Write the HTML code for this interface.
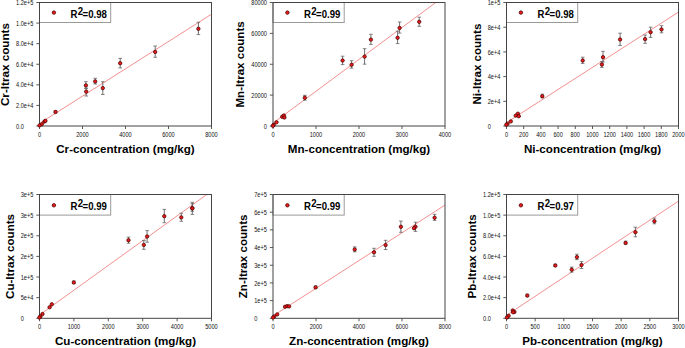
<!DOCTYPE html><html><head><meta charset="utf-8"><style>html,body{margin:0;padding:0;background:#fff;width:685px;height:348px;overflow:hidden}svg{display:block}text{font-family:"Liberation Sans",sans-serif}</style></head><body>
<svg width="685" height="348" viewBox="0 0 685 348">
<rect x="39.5" y="2.5" width="71.2" height="20.0" fill="#fff" stroke="#9a9a9a" stroke-width="1"/>
<line x1="40.50" y1="122.78" x2="211.50" y2="14.20" stroke="#f07474" stroke-width="0.8"/>
<rect x="39.5" y="2.5" width="172.0" height="123.50" fill="none" stroke="#454545" stroke-width="1"/>
<line x1="36.3" y1="126.00" x2="39.5" y2="126.00" stroke="#454545" stroke-width="0.9"/>
<text x="16.09" y="128.60" font-size="6.6" textLength="7.80" lengthAdjust="spacingAndGlyphs" fill="#111">0.0</text>
<line x1="36.3" y1="105.42" x2="39.5" y2="105.42" stroke="#454545" stroke-width="0.9"/>
<text x="16.09" y="108.02" font-size="6.6" textLength="17.31" lengthAdjust="spacingAndGlyphs" fill="#111">2.0e+4</text>
<line x1="36.3" y1="84.83" x2="39.5" y2="84.83" stroke="#454545" stroke-width="0.9"/>
<text x="16.09" y="87.43" font-size="6.6" textLength="17.31" lengthAdjust="spacingAndGlyphs" fill="#111">4.0e+4</text>
<line x1="36.3" y1="64.25" x2="39.5" y2="64.25" stroke="#454545" stroke-width="0.9"/>
<text x="16.09" y="66.85" font-size="6.6" textLength="17.31" lengthAdjust="spacingAndGlyphs" fill="#111">6.0e+4</text>
<line x1="36.3" y1="43.67" x2="39.5" y2="43.67" stroke="#454545" stroke-width="0.9"/>
<text x="16.09" y="46.27" font-size="6.6" textLength="17.31" lengthAdjust="spacingAndGlyphs" fill="#111">8.0e+4</text>
<line x1="36.3" y1="23.08" x2="39.5" y2="23.08" stroke="#454545" stroke-width="0.9"/>
<text x="16.09" y="25.68" font-size="6.6" textLength="17.31" lengthAdjust="spacingAndGlyphs" fill="#111">1.0e+5</text>
<line x1="36.3" y1="2.50" x2="39.5" y2="2.50" stroke="#454545" stroke-width="0.9"/>
<text x="16.09" y="5.10" font-size="6.6" textLength="17.31" lengthAdjust="spacingAndGlyphs" fill="#111">1.2e+5</text>
<line x1="39.50" y1="126.0" x2="39.50" y2="129.0" stroke="#454545" stroke-width="0.9"/>
<text x="39.50" y="137.30" font-size="6.6" text-anchor="middle" textLength="3.12" lengthAdjust="spacingAndGlyphs" fill="#111">0</text>
<line x1="82.50" y1="126.0" x2="82.50" y2="129.0" stroke="#454545" stroke-width="0.9"/>
<text x="82.50" y="137.30" font-size="6.6" text-anchor="middle" textLength="12.48" lengthAdjust="spacingAndGlyphs" fill="#111">2000</text>
<line x1="125.50" y1="126.0" x2="125.50" y2="129.0" stroke="#454545" stroke-width="0.9"/>
<text x="125.50" y="137.30" font-size="6.6" text-anchor="middle" textLength="12.48" lengthAdjust="spacingAndGlyphs" fill="#111">4000</text>
<line x1="168.50" y1="126.0" x2="168.50" y2="129.0" stroke="#454545" stroke-width="0.9"/>
<text x="168.50" y="137.30" font-size="6.6" text-anchor="middle" textLength="12.48" lengthAdjust="spacingAndGlyphs" fill="#111">6000</text>
<line x1="211.50" y1="126.0" x2="211.50" y2="129.0" stroke="#454545" stroke-width="0.9"/>
<text x="211.50" y="137.30" font-size="6.6" text-anchor="middle" textLength="12.48" lengthAdjust="spacingAndGlyphs" fill="#111">8000</text>
<text x="125.50" y="152.80" font-size="11.6" font-weight="bold" text-anchor="middle" fill="#000">Cr-concentration (mg/kg)</text>
<text transform="translate(9.04,64.55) rotate(-90)" x="0" y="0" font-size="11.7" font-weight="bold" text-anchor="middle" fill="#000">Cr-Itrax counts</text>
<circle cx="53.90" cy="12.60" r="1.75" fill="#ea1a1a" stroke="#4a0000" stroke-width="0.75"/>
<text transform="translate(70.50,17.85) scale(1,1.06)" x="0" y="0" font-size="9.6" font-weight="bold" fill="#000">R<tspan dy="-2.3" dx="0.2">2</tspan><tspan dy="2.3" dx="-0.35">=0.98</tspan></text>
<line x1="198.4" y1="22.3" x2="198.4" y2="34.6" stroke="#555" stroke-width="0.85"/>
<line x1="196.60" y1="22.3" x2="200.20" y2="22.3" stroke="#666" stroke-width="0.8"/>
<line x1="196.60" y1="34.6" x2="200.20" y2="34.6" stroke="#666" stroke-width="0.8"/>
<line x1="155.2" y1="46.0" x2="155.2" y2="57.3" stroke="#555" stroke-width="0.85"/>
<line x1="153.40" y1="46.0" x2="157.00" y2="46.0" stroke="#666" stroke-width="0.8"/>
<line x1="153.40" y1="57.3" x2="157.00" y2="57.3" stroke="#666" stroke-width="0.8"/>
<line x1="120.2" y1="58.3" x2="120.2" y2="67.9" stroke="#555" stroke-width="0.85"/>
<line x1="118.40" y1="58.3" x2="122.00" y2="58.3" stroke="#666" stroke-width="0.8"/>
<line x1="118.40" y1="67.9" x2="122.00" y2="67.9" stroke="#666" stroke-width="0.8"/>
<line x1="95.2" y1="78.3" x2="95.2" y2="84.0" stroke="#555" stroke-width="0.85"/>
<line x1="93.40" y1="78.3" x2="97.00" y2="78.3" stroke="#666" stroke-width="0.8"/>
<line x1="93.40" y1="84.0" x2="97.00" y2="84.0" stroke="#666" stroke-width="0.8"/>
<line x1="85.9" y1="81.7" x2="85.9" y2="88.3" stroke="#555" stroke-width="0.85"/>
<line x1="84.10" y1="81.7" x2="87.70" y2="81.7" stroke="#666" stroke-width="0.8"/>
<line x1="84.10" y1="88.3" x2="87.70" y2="88.3" stroke="#666" stroke-width="0.8"/>
<line x1="86.2" y1="88.3" x2="86.2" y2="96.0" stroke="#555" stroke-width="0.85"/>
<line x1="84.40" y1="88.3" x2="88.00" y2="88.3" stroke="#666" stroke-width="0.8"/>
<line x1="84.40" y1="96.0" x2="88.00" y2="96.0" stroke="#666" stroke-width="0.8"/>
<line x1="102.8" y1="81.7" x2="102.8" y2="94.5" stroke="#555" stroke-width="0.85"/>
<line x1="101.00" y1="81.7" x2="104.60" y2="81.7" stroke="#666" stroke-width="0.8"/>
<line x1="101.00" y1="94.5" x2="104.60" y2="94.5" stroke="#666" stroke-width="0.8"/>
<line x1="55.5" y1="110.8" x2="55.5" y2="112.8" stroke="#555" stroke-width="0.85"/>
<line x1="53.70" y1="110.8" x2="57.30" y2="110.8" stroke="#666" stroke-width="0.8"/>
<line x1="53.70" y1="112.8" x2="57.30" y2="112.8" stroke="#666" stroke-width="0.8"/>
<circle cx="198.4" cy="28.80" r="1.7" fill="#ea1a1a" stroke="#4a0000" stroke-width="0.75"/>
<circle cx="155.2" cy="51.90" r="1.7" fill="#ea1a1a" stroke="#4a0000" stroke-width="0.75"/>
<circle cx="120.2" cy="63.20" r="1.7" fill="#ea1a1a" stroke="#4a0000" stroke-width="0.75"/>
<circle cx="95.2" cy="81.40" r="1.7" fill="#ea1a1a" stroke="#4a0000" stroke-width="0.75"/>
<circle cx="85.9" cy="85.40" r="1.7" fill="#ea1a1a" stroke="#4a0000" stroke-width="0.75"/>
<circle cx="86.2" cy="91.60" r="1.7" fill="#ea1a1a" stroke="#4a0000" stroke-width="0.75"/>
<circle cx="102.8" cy="88.10" r="1.7" fill="#ea1a1a" stroke="#4a0000" stroke-width="0.75"/>
<circle cx="55.5" cy="112.00" r="1.7" fill="#ea1a1a" stroke="#4a0000" stroke-width="0.75"/>
<circle cx="44.4" cy="121.60" r="1.7" fill="#ea1a1a" stroke="#4a0000" stroke-width="0.75"/>
<circle cx="45.4" cy="120.80" r="1.7" fill="#ea1a1a" stroke="#4a0000" stroke-width="0.75"/>
<circle cx="41.8" cy="124.20" r="1.7" fill="#ea1a1a" stroke="#4a0000" stroke-width="0.75"/>
<circle cx="39.5" cy="125.40" r="1.7" fill="#ea1a1a" stroke="#4a0000" stroke-width="0.75"/>
<rect x="273.0" y="2.5" width="71.2" height="20.0" fill="#fff" stroke="#9a9a9a" stroke-width="1"/>
<line x1="274.00" y1="122.38" x2="435.78" y2="2.50" stroke="#f07474" stroke-width="0.8"/>
<rect x="273.0" y="2.5" width="172.0" height="123.50" fill="none" stroke="#454545" stroke-width="1"/>
<line x1="269.8" y1="126.00" x2="273.0" y2="126.00" stroke="#454545" stroke-width="0.9"/>
<text x="266.9" y="128.60" font-size="6.6" text-anchor="end" textLength="3.12" lengthAdjust="spacingAndGlyphs" fill="#111">0</text>
<line x1="269.8" y1="95.12" x2="273.0" y2="95.12" stroke="#454545" stroke-width="0.9"/>
<text x="266.9" y="97.72" font-size="6.6" text-anchor="end" textLength="15.60" lengthAdjust="spacingAndGlyphs" fill="#111">20000</text>
<line x1="269.8" y1="64.25" x2="273.0" y2="64.25" stroke="#454545" stroke-width="0.9"/>
<text x="266.9" y="66.85" font-size="6.6" text-anchor="end" textLength="15.60" lengthAdjust="spacingAndGlyphs" fill="#111">40000</text>
<line x1="269.8" y1="33.38" x2="273.0" y2="33.38" stroke="#454545" stroke-width="0.9"/>
<text x="266.9" y="35.98" font-size="6.6" text-anchor="end" textLength="15.60" lengthAdjust="spacingAndGlyphs" fill="#111">60000</text>
<line x1="269.8" y1="2.50" x2="273.0" y2="2.50" stroke="#454545" stroke-width="0.9"/>
<text x="266.9" y="5.10" font-size="6.6" text-anchor="end" textLength="15.60" lengthAdjust="spacingAndGlyphs" fill="#111">80000</text>
<line x1="273.00" y1="126.0" x2="273.00" y2="129.0" stroke="#454545" stroke-width="0.9"/>
<text x="273.00" y="137.30" font-size="6.6" text-anchor="middle" textLength="3.12" lengthAdjust="spacingAndGlyphs" fill="#111">0</text>
<line x1="316.00" y1="126.0" x2="316.00" y2="129.0" stroke="#454545" stroke-width="0.9"/>
<text x="316.00" y="137.30" font-size="6.6" text-anchor="middle" textLength="12.48" lengthAdjust="spacingAndGlyphs" fill="#111">1000</text>
<line x1="359.00" y1="126.0" x2="359.00" y2="129.0" stroke="#454545" stroke-width="0.9"/>
<text x="359.00" y="137.30" font-size="6.6" text-anchor="middle" textLength="12.48" lengthAdjust="spacingAndGlyphs" fill="#111">2000</text>
<line x1="402.00" y1="126.0" x2="402.00" y2="129.0" stroke="#454545" stroke-width="0.9"/>
<text x="402.00" y="137.30" font-size="6.6" text-anchor="middle" textLength="12.48" lengthAdjust="spacingAndGlyphs" fill="#111">3000</text>
<line x1="445.00" y1="126.0" x2="445.00" y2="129.0" stroke="#454545" stroke-width="0.9"/>
<text x="445.00" y="137.30" font-size="6.6" text-anchor="middle" textLength="12.48" lengthAdjust="spacingAndGlyphs" fill="#111">4000</text>
<text x="359.00" y="152.80" font-size="11.6" font-weight="bold" text-anchor="middle" fill="#000">Mn-concentration (mg/kg)</text>
<text transform="translate(243.95,64.40) rotate(-90)" x="0" y="0" font-size="11.6" font-weight="bold" text-anchor="middle" fill="#000">Mn-Itrax counts</text>
<circle cx="287.40" cy="12.60" r="1.75" fill="#ea1a1a" stroke="#4a0000" stroke-width="0.75"/>
<text transform="translate(304.00,17.85) scale(1,1.06)" x="0" y="0" font-size="9.6" font-weight="bold" fill="#000">R<tspan dy="-2.3" dx="0.2">2</tspan><tspan dy="2.3" dx="-0.35">=0.99</tspan></text>
<line x1="419.2" y1="17.2" x2="419.2" y2="26.3" stroke="#555" stroke-width="0.85"/>
<line x1="417.40" y1="17.2" x2="421.00" y2="17.2" stroke="#666" stroke-width="0.8"/>
<line x1="417.40" y1="26.3" x2="421.00" y2="26.3" stroke="#666" stroke-width="0.8"/>
<line x1="399.6" y1="22.0" x2="399.6" y2="33.1" stroke="#555" stroke-width="0.85"/>
<line x1="397.80" y1="22.0" x2="401.40" y2="22.0" stroke="#666" stroke-width="0.8"/>
<line x1="397.80" y1="33.1" x2="401.40" y2="33.1" stroke="#666" stroke-width="0.8"/>
<line x1="397.6" y1="31.2" x2="397.6" y2="43.6" stroke="#555" stroke-width="0.85"/>
<line x1="395.80" y1="31.2" x2="399.40" y2="31.2" stroke="#666" stroke-width="0.8"/>
<line x1="395.80" y1="43.6" x2="399.40" y2="43.6" stroke="#666" stroke-width="0.8"/>
<line x1="370.9" y1="34.3" x2="370.9" y2="44.4" stroke="#555" stroke-width="0.85"/>
<line x1="369.10" y1="34.3" x2="372.70" y2="34.3" stroke="#666" stroke-width="0.8"/>
<line x1="369.10" y1="44.4" x2="372.70" y2="44.4" stroke="#666" stroke-width="0.8"/>
<line x1="364.6" y1="48.7" x2="364.6" y2="64.2" stroke="#555" stroke-width="0.85"/>
<line x1="362.80" y1="48.7" x2="366.40" y2="48.7" stroke="#666" stroke-width="0.8"/>
<line x1="362.80" y1="64.2" x2="366.40" y2="64.2" stroke="#666" stroke-width="0.8"/>
<line x1="351.6" y1="60.7" x2="351.6" y2="68.2" stroke="#555" stroke-width="0.85"/>
<line x1="349.80" y1="60.7" x2="353.40" y2="60.7" stroke="#666" stroke-width="0.8"/>
<line x1="349.80" y1="68.2" x2="353.40" y2="68.2" stroke="#666" stroke-width="0.8"/>
<line x1="342.6" y1="56.2" x2="342.6" y2="64.6" stroke="#555" stroke-width="0.85"/>
<line x1="340.80" y1="56.2" x2="344.40" y2="56.2" stroke="#666" stroke-width="0.8"/>
<line x1="340.80" y1="64.6" x2="344.40" y2="64.6" stroke="#666" stroke-width="0.8"/>
<line x1="304.8" y1="95.3" x2="304.8" y2="100.2" stroke="#555" stroke-width="0.85"/>
<line x1="303.00" y1="95.3" x2="306.60" y2="95.3" stroke="#666" stroke-width="0.8"/>
<line x1="303.00" y1="100.2" x2="306.60" y2="100.2" stroke="#666" stroke-width="0.8"/>
<circle cx="419.2" cy="21.80" r="1.7" fill="#ea1a1a" stroke="#4a0000" stroke-width="0.75"/>
<circle cx="399.6" cy="27.90" r="1.7" fill="#ea1a1a" stroke="#4a0000" stroke-width="0.75"/>
<circle cx="397.6" cy="37.80" r="1.7" fill="#ea1a1a" stroke="#4a0000" stroke-width="0.75"/>
<circle cx="370.9" cy="39.60" r="1.7" fill="#ea1a1a" stroke="#4a0000" stroke-width="0.75"/>
<circle cx="364.6" cy="56.60" r="1.7" fill="#ea1a1a" stroke="#4a0000" stroke-width="0.75"/>
<circle cx="351.6" cy="64.80" r="1.7" fill="#ea1a1a" stroke="#4a0000" stroke-width="0.75"/>
<circle cx="342.6" cy="60.50" r="1.7" fill="#ea1a1a" stroke="#4a0000" stroke-width="0.75"/>
<circle cx="304.8" cy="97.80" r="1.7" fill="#ea1a1a" stroke="#4a0000" stroke-width="0.75"/>
<circle cx="282.2" cy="116.80" r="1.7" fill="#ea1a1a" stroke="#4a0000" stroke-width="0.75"/>
<circle cx="283.9" cy="115.50" r="1.7" fill="#ea1a1a" stroke="#4a0000" stroke-width="0.75"/>
<circle cx="284.4" cy="117.50" r="1.7" fill="#ea1a1a" stroke="#4a0000" stroke-width="0.75"/>
<circle cx="276.5" cy="122.30" r="1.7" fill="#ea1a1a" stroke="#4a0000" stroke-width="0.75"/>
<circle cx="273.7" cy="124.80" r="1.7" fill="#ea1a1a" stroke="#4a0000" stroke-width="0.75"/>
<circle cx="272.9" cy="125.80" r="1.7" fill="#ea1a1a" stroke="#4a0000" stroke-width="0.75"/>
<rect x="506.5" y="2.5" width="71.2" height="20.0" fill="#fff" stroke="#9a9a9a" stroke-width="1"/>
<line x1="507.50" y1="121.98" x2="678.50" y2="12.10" stroke="#f07474" stroke-width="0.8"/>
<rect x="506.5" y="2.5" width="172.0" height="123.50" fill="none" stroke="#454545" stroke-width="1"/>
<line x1="503.3" y1="126.00" x2="506.5" y2="126.00" stroke="#454545" stroke-width="0.9"/>
<text x="487.76" y="128.60" font-size="6.6" textLength="3.12" lengthAdjust="spacingAndGlyphs" fill="#111">0</text>
<line x1="503.3" y1="101.30" x2="506.5" y2="101.30" stroke="#454545" stroke-width="0.9"/>
<text x="487.76" y="103.90" font-size="6.6" textLength="12.64" lengthAdjust="spacingAndGlyphs" fill="#111">2e+4</text>
<line x1="503.3" y1="76.60" x2="506.5" y2="76.60" stroke="#454545" stroke-width="0.9"/>
<text x="487.76" y="79.20" font-size="6.6" textLength="12.64" lengthAdjust="spacingAndGlyphs" fill="#111">4e+4</text>
<line x1="503.3" y1="51.90" x2="506.5" y2="51.90" stroke="#454545" stroke-width="0.9"/>
<text x="487.76" y="54.50" font-size="6.6" textLength="12.64" lengthAdjust="spacingAndGlyphs" fill="#111">6e+4</text>
<line x1="503.3" y1="27.20" x2="506.5" y2="27.20" stroke="#454545" stroke-width="0.9"/>
<text x="487.76" y="29.80" font-size="6.6" textLength="12.64" lengthAdjust="spacingAndGlyphs" fill="#111">8e+4</text>
<line x1="503.3" y1="2.50" x2="506.5" y2="2.50" stroke="#454545" stroke-width="0.9"/>
<text x="487.76" y="5.10" font-size="6.6" textLength="12.64" lengthAdjust="spacingAndGlyphs" fill="#111">1e+5</text>
<line x1="506.50" y1="126.0" x2="506.50" y2="129.0" stroke="#454545" stroke-width="0.9"/>
<text x="506.50" y="137.30" font-size="6.6" text-anchor="middle" textLength="3.12" lengthAdjust="spacingAndGlyphs" fill="#111">0</text>
<line x1="523.70" y1="126.0" x2="523.70" y2="129.0" stroke="#454545" stroke-width="0.9"/>
<text x="523.70" y="137.30" font-size="6.6" text-anchor="middle" textLength="9.36" lengthAdjust="spacingAndGlyphs" fill="#111">200</text>
<line x1="540.90" y1="126.0" x2="540.90" y2="129.0" stroke="#454545" stroke-width="0.9"/>
<text x="540.90" y="137.30" font-size="6.6" text-anchor="middle" textLength="9.36" lengthAdjust="spacingAndGlyphs" fill="#111">400</text>
<line x1="558.10" y1="126.0" x2="558.10" y2="129.0" stroke="#454545" stroke-width="0.9"/>
<text x="558.10" y="137.30" font-size="6.6" text-anchor="middle" textLength="9.36" lengthAdjust="spacingAndGlyphs" fill="#111">600</text>
<line x1="575.30" y1="126.0" x2="575.30" y2="129.0" stroke="#454545" stroke-width="0.9"/>
<text x="575.30" y="137.30" font-size="6.6" text-anchor="middle" textLength="9.36" lengthAdjust="spacingAndGlyphs" fill="#111">800</text>
<line x1="592.50" y1="126.0" x2="592.50" y2="129.0" stroke="#454545" stroke-width="0.9"/>
<text x="592.50" y="137.30" font-size="6.6" text-anchor="middle" textLength="12.48" lengthAdjust="spacingAndGlyphs" fill="#111">1000</text>
<line x1="609.70" y1="126.0" x2="609.70" y2="129.0" stroke="#454545" stroke-width="0.9"/>
<text x="609.70" y="137.30" font-size="6.6" text-anchor="middle" textLength="12.48" lengthAdjust="spacingAndGlyphs" fill="#111">1200</text>
<line x1="626.90" y1="126.0" x2="626.90" y2="129.0" stroke="#454545" stroke-width="0.9"/>
<text x="626.90" y="137.30" font-size="6.6" text-anchor="middle" textLength="12.48" lengthAdjust="spacingAndGlyphs" fill="#111">1400</text>
<line x1="644.10" y1="126.0" x2="644.10" y2="129.0" stroke="#454545" stroke-width="0.9"/>
<text x="644.10" y="137.30" font-size="6.6" text-anchor="middle" textLength="12.48" lengthAdjust="spacingAndGlyphs" fill="#111">1600</text>
<line x1="661.30" y1="126.0" x2="661.30" y2="129.0" stroke="#454545" stroke-width="0.9"/>
<text x="661.30" y="137.30" font-size="6.6" text-anchor="middle" textLength="12.48" lengthAdjust="spacingAndGlyphs" fill="#111">1800</text>
<line x1="678.50" y1="126.0" x2="678.50" y2="129.0" stroke="#454545" stroke-width="0.9"/>
<text x="678.50" y="137.30" font-size="6.6" text-anchor="middle" textLength="12.48" lengthAdjust="spacingAndGlyphs" fill="#111">2000</text>
<text x="592.50" y="152.80" font-size="11.6" font-weight="bold" text-anchor="middle" fill="#000">Ni-concentration (mg/kg)</text>
<text transform="translate(480.71,64.05) rotate(-90)" x="0" y="0" font-size="11.55" font-weight="bold" text-anchor="middle" fill="#000">Ni-Itrax counts</text>
<circle cx="520.90" cy="12.60" r="1.75" fill="#ea1a1a" stroke="#4a0000" stroke-width="0.75"/>
<text transform="translate(537.50,17.85) scale(1,1.06)" x="0" y="0" font-size="9.6" font-weight="bold" fill="#000">R<tspan dy="-2.3" dx="0.2">2</tspan><tspan dy="2.3" dx="-0.35">=0.98</tspan></text>
<line x1="661.5" y1="25.7" x2="661.5" y2="32.8" stroke="#555" stroke-width="0.85"/>
<line x1="659.70" y1="25.7" x2="663.30" y2="25.7" stroke="#666" stroke-width="0.8"/>
<line x1="659.70" y1="32.8" x2="663.30" y2="32.8" stroke="#666" stroke-width="0.8"/>
<line x1="650.6" y1="27.2" x2="650.6" y2="37.4" stroke="#555" stroke-width="0.85"/>
<line x1="648.80" y1="27.2" x2="652.40" y2="27.2" stroke="#666" stroke-width="0.8"/>
<line x1="648.80" y1="37.4" x2="652.40" y2="37.4" stroke="#666" stroke-width="0.8"/>
<line x1="645.1" y1="35.0" x2="645.1" y2="43.3" stroke="#555" stroke-width="0.85"/>
<line x1="643.30" y1="35.0" x2="646.90" y2="35.0" stroke="#666" stroke-width="0.8"/>
<line x1="643.30" y1="43.3" x2="646.90" y2="43.3" stroke="#666" stroke-width="0.8"/>
<line x1="620.1" y1="33.2" x2="620.1" y2="45.5" stroke="#555" stroke-width="0.85"/>
<line x1="618.30" y1="33.2" x2="621.90" y2="33.2" stroke="#666" stroke-width="0.8"/>
<line x1="618.30" y1="45.5" x2="621.90" y2="45.5" stroke="#666" stroke-width="0.8"/>
<line x1="603.0" y1="51.3" x2="603.0" y2="62.0" stroke="#555" stroke-width="0.85"/>
<line x1="601.20" y1="51.3" x2="604.80" y2="51.3" stroke="#666" stroke-width="0.8"/>
<line x1="601.20" y1="62.0" x2="604.80" y2="62.0" stroke="#666" stroke-width="0.8"/>
<line x1="601.9" y1="61.6" x2="601.9" y2="67.4" stroke="#555" stroke-width="0.85"/>
<line x1="600.10" y1="61.6" x2="603.70" y2="61.6" stroke="#666" stroke-width="0.8"/>
<line x1="600.10" y1="67.4" x2="603.70" y2="67.4" stroke="#666" stroke-width="0.8"/>
<line x1="582.7" y1="57.2" x2="582.7" y2="63.4" stroke="#555" stroke-width="0.85"/>
<line x1="580.90" y1="57.2" x2="584.50" y2="57.2" stroke="#666" stroke-width="0.8"/>
<line x1="580.90" y1="63.4" x2="584.50" y2="63.4" stroke="#666" stroke-width="0.8"/>
<line x1="542.3" y1="94.2" x2="542.3" y2="97.8" stroke="#555" stroke-width="0.85"/>
<line x1="540.50" y1="94.2" x2="544.10" y2="94.2" stroke="#666" stroke-width="0.8"/>
<line x1="540.50" y1="97.8" x2="544.10" y2="97.8" stroke="#666" stroke-width="0.8"/>
<circle cx="661.5" cy="29.40" r="1.7" fill="#ea1a1a" stroke="#4a0000" stroke-width="0.75"/>
<circle cx="650.6" cy="32.20" r="1.7" fill="#ea1a1a" stroke="#4a0000" stroke-width="0.75"/>
<circle cx="645.1" cy="39.10" r="1.7" fill="#ea1a1a" stroke="#4a0000" stroke-width="0.75"/>
<circle cx="620.1" cy="39.50" r="1.7" fill="#ea1a1a" stroke="#4a0000" stroke-width="0.75"/>
<circle cx="603.0" cy="57.20" r="1.7" fill="#ea1a1a" stroke="#4a0000" stroke-width="0.75"/>
<circle cx="601.9" cy="64.50" r="1.7" fill="#ea1a1a" stroke="#4a0000" stroke-width="0.75"/>
<circle cx="582.7" cy="60.50" r="1.7" fill="#ea1a1a" stroke="#4a0000" stroke-width="0.75"/>
<circle cx="542.3" cy="96.20" r="1.7" fill="#ea1a1a" stroke="#4a0000" stroke-width="0.75"/>
<circle cx="517.9" cy="113.70" r="1.7" fill="#ea1a1a" stroke="#4a0000" stroke-width="0.75"/>
<circle cx="515.7" cy="115.60" r="1.7" fill="#ea1a1a" stroke="#4a0000" stroke-width="0.75"/>
<circle cx="518.8" cy="116.20" r="1.7" fill="#ea1a1a" stroke="#4a0000" stroke-width="0.75"/>
<circle cx="510.8" cy="121.40" r="1.7" fill="#ea1a1a" stroke="#4a0000" stroke-width="0.75"/>
<circle cx="507.5" cy="123.70" r="1.7" fill="#ea1a1a" stroke="#4a0000" stroke-width="0.75"/>
<circle cx="506.3" cy="124.70" r="1.7" fill="#ea1a1a" stroke="#4a0000" stroke-width="0.75"/>
<rect x="39.5" y="194.5" width="71.2" height="20.6" fill="#fff" stroke="#9a9a9a" stroke-width="1"/>
<line x1="40.50" y1="314.24" x2="206.81" y2="194.50" stroke="#f07474" stroke-width="0.8"/>
<rect x="39.5" y="194.5" width="172.0" height="123.80" fill="none" stroke="#454545" stroke-width="1"/>
<line x1="36.3" y1="318.30" x2="39.5" y2="318.30" stroke="#454545" stroke-width="0.9"/>
<text x="20.76" y="320.90" font-size="6.6" textLength="3.12" lengthAdjust="spacingAndGlyphs" fill="#111">0</text>
<line x1="36.3" y1="297.67" x2="39.5" y2="297.67" stroke="#454545" stroke-width="0.9"/>
<text x="20.76" y="300.27" font-size="6.6" textLength="12.64" lengthAdjust="spacingAndGlyphs" fill="#111">5e+4</text>
<line x1="36.3" y1="277.03" x2="39.5" y2="277.03" stroke="#454545" stroke-width="0.9"/>
<text x="20.76" y="279.63" font-size="6.6" textLength="12.64" lengthAdjust="spacingAndGlyphs" fill="#111">1e+5</text>
<line x1="36.3" y1="256.40" x2="39.5" y2="256.40" stroke="#454545" stroke-width="0.9"/>
<text x="20.76" y="259.00" font-size="6.6" textLength="12.64" lengthAdjust="spacingAndGlyphs" fill="#111">2e+5</text>
<line x1="36.3" y1="235.77" x2="39.5" y2="235.77" stroke="#454545" stroke-width="0.9"/>
<text x="20.76" y="238.37" font-size="6.6" textLength="12.64" lengthAdjust="spacingAndGlyphs" fill="#111">2e+5</text>
<line x1="36.3" y1="215.13" x2="39.5" y2="215.13" stroke="#454545" stroke-width="0.9"/>
<text x="20.76" y="217.73" font-size="6.6" textLength="12.64" lengthAdjust="spacingAndGlyphs" fill="#111">3e+5</text>
<line x1="36.3" y1="194.50" x2="39.5" y2="194.50" stroke="#454545" stroke-width="0.9"/>
<text x="20.76" y="197.10" font-size="6.6" textLength="12.64" lengthAdjust="spacingAndGlyphs" fill="#111">3e+5</text>
<line x1="39.50" y1="318.3" x2="39.50" y2="321.3" stroke="#454545" stroke-width="0.9"/>
<text x="39.50" y="329.20" font-size="6.6" text-anchor="middle" textLength="3.12" lengthAdjust="spacingAndGlyphs" fill="#111">0</text>
<line x1="73.90" y1="318.3" x2="73.90" y2="321.3" stroke="#454545" stroke-width="0.9"/>
<text x="73.90" y="329.20" font-size="6.6" text-anchor="middle" textLength="12.48" lengthAdjust="spacingAndGlyphs" fill="#111">1000</text>
<line x1="108.30" y1="318.3" x2="108.30" y2="321.3" stroke="#454545" stroke-width="0.9"/>
<text x="108.30" y="329.20" font-size="6.6" text-anchor="middle" textLength="12.48" lengthAdjust="spacingAndGlyphs" fill="#111">2000</text>
<line x1="142.70" y1="318.3" x2="142.70" y2="321.3" stroke="#454545" stroke-width="0.9"/>
<text x="142.70" y="329.20" font-size="6.6" text-anchor="middle" textLength="12.48" lengthAdjust="spacingAndGlyphs" fill="#111">3000</text>
<line x1="177.10" y1="318.3" x2="177.10" y2="321.3" stroke="#454545" stroke-width="0.9"/>
<text x="177.10" y="329.20" font-size="6.6" text-anchor="middle" textLength="12.48" lengthAdjust="spacingAndGlyphs" fill="#111">4000</text>
<line x1="211.50" y1="318.3" x2="211.50" y2="321.3" stroke="#454545" stroke-width="0.9"/>
<text x="211.50" y="329.20" font-size="6.6" text-anchor="middle" textLength="12.48" lengthAdjust="spacingAndGlyphs" fill="#111">5000</text>
<text x="125.50" y="345.10" font-size="11.6" font-weight="bold" text-anchor="middle" fill="#000">Cu-concentration (mg/kg)</text>
<text transform="translate(13.71,256.45) rotate(-90)" x="0" y="0" font-size="11.6" font-weight="bold" text-anchor="middle" fill="#000">Cu-Itrax counts</text>
<circle cx="53.90" cy="205.30" r="1.75" fill="#ea1a1a" stroke="#4a0000" stroke-width="0.75"/>
<text transform="translate(70.50,209.85) scale(1,1.06)" x="0" y="0" font-size="9.6" font-weight="bold" fill="#000">R<tspan dy="-2.3" dx="0.2">2</tspan><tspan dy="2.3" dx="-0.35">=0.99</tspan></text>
<line x1="192.3" y1="202.3" x2="192.3" y2="214.4" stroke="#555" stroke-width="0.85"/>
<line x1="190.50" y1="202.3" x2="194.10" y2="202.3" stroke="#666" stroke-width="0.8"/>
<line x1="190.50" y1="214.4" x2="194.10" y2="214.4" stroke="#666" stroke-width="0.8"/>
<line x1="192.3" y1="203.7" x2="192.3" y2="211.3" stroke="#555" stroke-width="0.85"/>
<line x1="190.50" y1="203.7" x2="194.10" y2="203.7" stroke="#666" stroke-width="0.8"/>
<line x1="190.50" y1="211.3" x2="194.10" y2="211.3" stroke="#666" stroke-width="0.8"/>
<line x1="181.3" y1="213.2" x2="181.3" y2="221.3" stroke="#555" stroke-width="0.85"/>
<line x1="179.50" y1="213.2" x2="183.10" y2="213.2" stroke="#666" stroke-width="0.8"/>
<line x1="179.50" y1="221.3" x2="183.10" y2="221.3" stroke="#666" stroke-width="0.8"/>
<line x1="164.3" y1="209.4" x2="164.3" y2="222.7" stroke="#555" stroke-width="0.85"/>
<line x1="162.50" y1="209.4" x2="166.10" y2="209.4" stroke="#666" stroke-width="0.8"/>
<line x1="162.50" y1="222.7" x2="166.10" y2="222.7" stroke="#666" stroke-width="0.8"/>
<line x1="147.1" y1="230.6" x2="147.1" y2="242.2" stroke="#555" stroke-width="0.85"/>
<line x1="145.30" y1="230.6" x2="148.90" y2="230.6" stroke="#666" stroke-width="0.8"/>
<line x1="145.30" y1="242.2" x2="148.90" y2="242.2" stroke="#666" stroke-width="0.8"/>
<line x1="143.8" y1="240.5" x2="143.8" y2="249.3" stroke="#555" stroke-width="0.85"/>
<line x1="142.00" y1="240.5" x2="145.60" y2="240.5" stroke="#666" stroke-width="0.8"/>
<line x1="142.00" y1="249.3" x2="145.60" y2="249.3" stroke="#666" stroke-width="0.8"/>
<line x1="128.5" y1="237.1" x2="128.5" y2="243.2" stroke="#555" stroke-width="0.85"/>
<line x1="126.70" y1="237.1" x2="130.30" y2="237.1" stroke="#666" stroke-width="0.8"/>
<line x1="126.70" y1="243.2" x2="130.30" y2="243.2" stroke="#666" stroke-width="0.8"/>
<line x1="73.8" y1="281.0" x2="73.8" y2="283.6" stroke="#555" stroke-width="0.85"/>
<line x1="72.00" y1="281.0" x2="75.60" y2="281.0" stroke="#666" stroke-width="0.8"/>
<line x1="72.00" y1="283.6" x2="75.60" y2="283.6" stroke="#666" stroke-width="0.8"/>
<circle cx="192.3" cy="208.20" r="1.7" fill="#ea1a1a" stroke="#4a0000" stroke-width="0.75"/>
<circle cx="192.3" cy="208.30" r="1.7" fill="#ea1a1a" stroke="#4a0000" stroke-width="0.75"/>
<circle cx="181.3" cy="217.40" r="1.7" fill="#ea1a1a" stroke="#4a0000" stroke-width="0.75"/>
<circle cx="164.3" cy="216.20" r="1.7" fill="#ea1a1a" stroke="#4a0000" stroke-width="0.75"/>
<circle cx="147.1" cy="236.50" r="1.7" fill="#ea1a1a" stroke="#4a0000" stroke-width="0.75"/>
<circle cx="143.8" cy="244.90" r="1.7" fill="#ea1a1a" stroke="#4a0000" stroke-width="0.75"/>
<circle cx="128.5" cy="240.20" r="1.7" fill="#ea1a1a" stroke="#4a0000" stroke-width="0.75"/>
<circle cx="73.8" cy="282.50" r="1.7" fill="#ea1a1a" stroke="#4a0000" stroke-width="0.75"/>
<circle cx="51.8" cy="304.30" r="1.7" fill="#ea1a1a" stroke="#4a0000" stroke-width="0.75"/>
<circle cx="49.6" cy="307.30" r="1.7" fill="#ea1a1a" stroke="#4a0000" stroke-width="0.75"/>
<circle cx="42.5" cy="314.00" r="1.7" fill="#ea1a1a" stroke="#4a0000" stroke-width="0.75"/>
<circle cx="40.4" cy="316.40" r="1.7" fill="#ea1a1a" stroke="#4a0000" stroke-width="0.75"/>
<circle cx="39.4" cy="317.50" r="1.7" fill="#ea1a1a" stroke="#4a0000" stroke-width="0.75"/>
<rect x="273.0" y="194.5" width="71.2" height="20.6" fill="#fff" stroke="#9a9a9a" stroke-width="1"/>
<line x1="274.00" y1="315.35" x2="445.00" y2="205.05" stroke="#f07474" stroke-width="0.8"/>
<rect x="273.0" y="194.5" width="172.0" height="123.80" fill="none" stroke="#454545" stroke-width="1"/>
<line x1="269.8" y1="318.30" x2="273.0" y2="318.30" stroke="#454545" stroke-width="0.9"/>
<text x="254.26" y="320.90" font-size="6.6" textLength="3.12" lengthAdjust="spacingAndGlyphs" fill="#111">0</text>
<line x1="269.8" y1="300.61" x2="273.0" y2="300.61" stroke="#454545" stroke-width="0.9"/>
<text x="254.26" y="303.21" font-size="6.6" textLength="12.64" lengthAdjust="spacingAndGlyphs" fill="#111">1e+5</text>
<line x1="269.8" y1="282.93" x2="273.0" y2="282.93" stroke="#454545" stroke-width="0.9"/>
<text x="254.26" y="285.53" font-size="6.6" textLength="12.64" lengthAdjust="spacingAndGlyphs" fill="#111">2e+5</text>
<line x1="269.8" y1="265.24" x2="273.0" y2="265.24" stroke="#454545" stroke-width="0.9"/>
<text x="254.26" y="267.84" font-size="6.6" textLength="12.64" lengthAdjust="spacingAndGlyphs" fill="#111">3e+5</text>
<line x1="269.8" y1="247.56" x2="273.0" y2="247.56" stroke="#454545" stroke-width="0.9"/>
<text x="254.26" y="250.16" font-size="6.6" textLength="12.64" lengthAdjust="spacingAndGlyphs" fill="#111">4e+5</text>
<line x1="269.8" y1="229.87" x2="273.0" y2="229.87" stroke="#454545" stroke-width="0.9"/>
<text x="254.26" y="232.47" font-size="6.6" textLength="12.64" lengthAdjust="spacingAndGlyphs" fill="#111">5e+5</text>
<line x1="269.8" y1="212.19" x2="273.0" y2="212.19" stroke="#454545" stroke-width="0.9"/>
<text x="254.26" y="214.79" font-size="6.6" textLength="12.64" lengthAdjust="spacingAndGlyphs" fill="#111">6e+5</text>
<line x1="269.8" y1="194.50" x2="273.0" y2="194.50" stroke="#454545" stroke-width="0.9"/>
<text x="254.26" y="197.10" font-size="6.6" textLength="12.64" lengthAdjust="spacingAndGlyphs" fill="#111">7e+5</text>
<line x1="273.00" y1="318.3" x2="273.00" y2="321.3" stroke="#454545" stroke-width="0.9"/>
<text x="273.00" y="329.20" font-size="6.6" text-anchor="middle" textLength="3.12" lengthAdjust="spacingAndGlyphs" fill="#111">0</text>
<line x1="316.00" y1="318.3" x2="316.00" y2="321.3" stroke="#454545" stroke-width="0.9"/>
<text x="316.00" y="329.20" font-size="6.6" text-anchor="middle" textLength="12.48" lengthAdjust="spacingAndGlyphs" fill="#111">2000</text>
<line x1="359.00" y1="318.3" x2="359.00" y2="321.3" stroke="#454545" stroke-width="0.9"/>
<text x="359.00" y="329.20" font-size="6.6" text-anchor="middle" textLength="12.48" lengthAdjust="spacingAndGlyphs" fill="#111">4000</text>
<line x1="402.00" y1="318.3" x2="402.00" y2="321.3" stroke="#454545" stroke-width="0.9"/>
<text x="402.00" y="329.20" font-size="6.6" text-anchor="middle" textLength="12.48" lengthAdjust="spacingAndGlyphs" fill="#111">6000</text>
<line x1="445.00" y1="318.3" x2="445.00" y2="321.3" stroke="#454545" stroke-width="0.9"/>
<text x="445.00" y="329.20" font-size="6.6" text-anchor="middle" textLength="12.48" lengthAdjust="spacingAndGlyphs" fill="#111">8000</text>
<text x="359.00" y="345.10" font-size="11.6" font-weight="bold" text-anchor="middle" fill="#000">Zn-concentration (mg/kg)</text>
<text transform="translate(247.21,256.40) rotate(-90)" x="0" y="0" font-size="11.6" font-weight="bold" text-anchor="middle" fill="#000">Zn-Itrax counts</text>
<circle cx="287.40" cy="205.30" r="1.75" fill="#ea1a1a" stroke="#4a0000" stroke-width="0.75"/>
<text transform="translate(304.00,209.85) scale(1,1.06)" x="0" y="0" font-size="9.6" font-weight="bold" fill="#000">R<tspan dy="-2.3" dx="0.2">2</tspan><tspan dy="2.3" dx="-0.35">=0.99</tspan></text>
<line x1="434.6" y1="214.3" x2="434.6" y2="220.4" stroke="#555" stroke-width="0.85"/>
<line x1="432.80" y1="214.3" x2="436.40" y2="214.3" stroke="#666" stroke-width="0.8"/>
<line x1="432.80" y1="220.4" x2="436.40" y2="220.4" stroke="#666" stroke-width="0.8"/>
<line x1="415.5" y1="222.2" x2="415.5" y2="231.4" stroke="#555" stroke-width="0.85"/>
<line x1="413.70" y1="222.2" x2="417.30" y2="222.2" stroke="#666" stroke-width="0.8"/>
<line x1="413.70" y1="231.4" x2="417.30" y2="231.4" stroke="#666" stroke-width="0.8"/>
<line x1="400.9" y1="221.1" x2="400.9" y2="232.3" stroke="#555" stroke-width="0.85"/>
<line x1="399.10" y1="221.1" x2="402.70" y2="221.1" stroke="#666" stroke-width="0.8"/>
<line x1="399.10" y1="232.3" x2="402.70" y2="232.3" stroke="#666" stroke-width="0.8"/>
<line x1="385.6" y1="240.3" x2="385.6" y2="249.5" stroke="#555" stroke-width="0.85"/>
<line x1="383.80" y1="240.3" x2="387.40" y2="240.3" stroke="#666" stroke-width="0.8"/>
<line x1="383.80" y1="249.5" x2="387.40" y2="249.5" stroke="#666" stroke-width="0.8"/>
<line x1="374.0" y1="248.3" x2="374.0" y2="256.3" stroke="#555" stroke-width="0.85"/>
<line x1="372.20" y1="248.3" x2="375.80" y2="248.3" stroke="#666" stroke-width="0.8"/>
<line x1="372.20" y1="256.3" x2="375.80" y2="256.3" stroke="#666" stroke-width="0.8"/>
<line x1="354.7" y1="246.9" x2="354.7" y2="251.8" stroke="#555" stroke-width="0.85"/>
<line x1="352.90" y1="246.9" x2="356.50" y2="246.9" stroke="#666" stroke-width="0.8"/>
<line x1="352.90" y1="251.8" x2="356.50" y2="251.8" stroke="#666" stroke-width="0.8"/>
<line x1="315.6" y1="285.9" x2="315.6" y2="288.6" stroke="#555" stroke-width="0.85"/>
<line x1="313.80" y1="285.9" x2="317.40" y2="285.9" stroke="#666" stroke-width="0.8"/>
<line x1="313.80" y1="288.6" x2="317.40" y2="288.6" stroke="#666" stroke-width="0.8"/>
<circle cx="434.6" cy="217.70" r="1.7" fill="#ea1a1a" stroke="#4a0000" stroke-width="0.75"/>
<circle cx="415.5" cy="226.70" r="1.7" fill="#ea1a1a" stroke="#4a0000" stroke-width="0.75"/>
<circle cx="414.0" cy="228.20" r="1.7" fill="#ea1a1a" stroke="#4a0000" stroke-width="0.75"/>
<circle cx="400.9" cy="226.80" r="1.7" fill="#ea1a1a" stroke="#4a0000" stroke-width="0.75"/>
<circle cx="385.6" cy="245.10" r="1.7" fill="#ea1a1a" stroke="#4a0000" stroke-width="0.75"/>
<circle cx="374.0" cy="252.30" r="1.7" fill="#ea1a1a" stroke="#4a0000" stroke-width="0.75"/>
<circle cx="354.7" cy="249.50" r="1.7" fill="#ea1a1a" stroke="#4a0000" stroke-width="0.75"/>
<circle cx="315.6" cy="287.40" r="1.7" fill="#ea1a1a" stroke="#4a0000" stroke-width="0.75"/>
<circle cx="285.1" cy="306.80" r="1.7" fill="#ea1a1a" stroke="#4a0000" stroke-width="0.75"/>
<circle cx="287.2" cy="306.10" r="1.7" fill="#ea1a1a" stroke="#4a0000" stroke-width="0.75"/>
<circle cx="289.1" cy="306.40" r="1.7" fill="#ea1a1a" stroke="#4a0000" stroke-width="0.75"/>
<circle cx="277.2" cy="314.40" r="1.7" fill="#ea1a1a" stroke="#4a0000" stroke-width="0.75"/>
<circle cx="274.3" cy="316.40" r="1.7" fill="#ea1a1a" stroke="#4a0000" stroke-width="0.75"/>
<circle cx="273.0" cy="317.50" r="1.7" fill="#ea1a1a" stroke="#4a0000" stroke-width="0.75"/>
<rect x="506.5" y="194.5" width="71.2" height="20.6" fill="#fff" stroke="#9a9a9a" stroke-width="1"/>
<line x1="507.50" y1="314.66" x2="678.50" y2="201.12" stroke="#f07474" stroke-width="0.8"/>
<rect x="506.5" y="194.5" width="172.0" height="123.80" fill="none" stroke="#454545" stroke-width="1"/>
<line x1="503.3" y1="318.30" x2="506.5" y2="318.30" stroke="#454545" stroke-width="0.9"/>
<text x="483.09" y="320.90" font-size="6.6" textLength="7.80" lengthAdjust="spacingAndGlyphs" fill="#111">0.0</text>
<line x1="503.3" y1="297.67" x2="506.5" y2="297.67" stroke="#454545" stroke-width="0.9"/>
<text x="483.09" y="300.27" font-size="6.6" textLength="17.31" lengthAdjust="spacingAndGlyphs" fill="#111">2.0e+4</text>
<line x1="503.3" y1="277.03" x2="506.5" y2="277.03" stroke="#454545" stroke-width="0.9"/>
<text x="483.09" y="279.63" font-size="6.6" textLength="17.31" lengthAdjust="spacingAndGlyphs" fill="#111">4.0e+4</text>
<line x1="503.3" y1="256.40" x2="506.5" y2="256.40" stroke="#454545" stroke-width="0.9"/>
<text x="483.09" y="259.00" font-size="6.6" textLength="17.31" lengthAdjust="spacingAndGlyphs" fill="#111">6.0e+4</text>
<line x1="503.3" y1="235.77" x2="506.5" y2="235.77" stroke="#454545" stroke-width="0.9"/>
<text x="483.09" y="238.37" font-size="6.6" textLength="17.31" lengthAdjust="spacingAndGlyphs" fill="#111">8.0e+4</text>
<line x1="503.3" y1="215.13" x2="506.5" y2="215.13" stroke="#454545" stroke-width="0.9"/>
<text x="483.09" y="217.73" font-size="6.6" textLength="17.31" lengthAdjust="spacingAndGlyphs" fill="#111">1.0e+5</text>
<line x1="503.3" y1="194.50" x2="506.5" y2="194.50" stroke="#454545" stroke-width="0.9"/>
<text x="483.09" y="197.10" font-size="6.6" textLength="17.31" lengthAdjust="spacingAndGlyphs" fill="#111">1.2e+5</text>
<line x1="506.50" y1="318.3" x2="506.50" y2="321.3" stroke="#454545" stroke-width="0.9"/>
<text x="506.50" y="329.20" font-size="6.6" text-anchor="middle" textLength="3.12" lengthAdjust="spacingAndGlyphs" fill="#111">0</text>
<line x1="535.17" y1="318.3" x2="535.17" y2="321.3" stroke="#454545" stroke-width="0.9"/>
<text x="535.17" y="329.20" font-size="6.6" text-anchor="middle" textLength="9.36" lengthAdjust="spacingAndGlyphs" fill="#111">500</text>
<line x1="563.83" y1="318.3" x2="563.83" y2="321.3" stroke="#454545" stroke-width="0.9"/>
<text x="563.83" y="329.20" font-size="6.6" text-anchor="middle" textLength="12.48" lengthAdjust="spacingAndGlyphs" fill="#111">1000</text>
<line x1="592.50" y1="318.3" x2="592.50" y2="321.3" stroke="#454545" stroke-width="0.9"/>
<text x="592.50" y="329.20" font-size="6.6" text-anchor="middle" textLength="12.48" lengthAdjust="spacingAndGlyphs" fill="#111">1500</text>
<line x1="621.17" y1="318.3" x2="621.17" y2="321.3" stroke="#454545" stroke-width="0.9"/>
<text x="621.17" y="329.20" font-size="6.6" text-anchor="middle" textLength="12.48" lengthAdjust="spacingAndGlyphs" fill="#111">2000</text>
<line x1="649.83" y1="318.3" x2="649.83" y2="321.3" stroke="#454545" stroke-width="0.9"/>
<text x="649.83" y="329.20" font-size="6.6" text-anchor="middle" textLength="12.48" lengthAdjust="spacingAndGlyphs" fill="#111">2500</text>
<line x1="678.50" y1="318.3" x2="678.50" y2="321.3" stroke="#454545" stroke-width="0.9"/>
<text x="678.50" y="329.20" font-size="6.6" text-anchor="middle" textLength="12.48" lengthAdjust="spacingAndGlyphs" fill="#111">3000</text>
<text x="592.50" y="345.10" font-size="11.6" font-weight="bold" text-anchor="middle" fill="#000">Pb-concentration (mg/kg)</text>
<text transform="translate(476.04,256.40) rotate(-90)" x="0" y="0" font-size="11.6" font-weight="bold" text-anchor="middle" fill="#000">Pb-Itrax counts</text>
<circle cx="520.90" cy="205.30" r="1.75" fill="#ea1a1a" stroke="#4a0000" stroke-width="0.75"/>
<text transform="translate(537.50,209.85) scale(1,1.06)" x="0" y="0" font-size="9.6" font-weight="bold" fill="#000">R<tspan dy="-2.3" dx="0.2">2</tspan><tspan dy="2.3" dx="-0.35">=0.97</tspan></text>
<line x1="654.4" y1="218.1" x2="654.4" y2="223.8" stroke="#555" stroke-width="0.85"/>
<line x1="652.60" y1="218.1" x2="656.20" y2="218.1" stroke="#666" stroke-width="0.8"/>
<line x1="652.60" y1="223.8" x2="656.20" y2="223.8" stroke="#666" stroke-width="0.8"/>
<line x1="635.4" y1="227.2" x2="635.4" y2="236.8" stroke="#555" stroke-width="0.85"/>
<line x1="633.60" y1="227.2" x2="637.20" y2="227.2" stroke="#666" stroke-width="0.8"/>
<line x1="633.60" y1="236.8" x2="637.20" y2="236.8" stroke="#666" stroke-width="0.8"/>
<line x1="625.6" y1="241.2" x2="625.6" y2="244.2" stroke="#555" stroke-width="0.85"/>
<line x1="623.80" y1="241.2" x2="627.40" y2="241.2" stroke="#666" stroke-width="0.8"/>
<line x1="623.80" y1="244.2" x2="627.40" y2="244.2" stroke="#666" stroke-width="0.8"/>
<line x1="576.9" y1="254.2" x2="576.9" y2="259.6" stroke="#555" stroke-width="0.85"/>
<line x1="575.10" y1="254.2" x2="578.70" y2="254.2" stroke="#666" stroke-width="0.8"/>
<line x1="575.10" y1="259.6" x2="578.70" y2="259.6" stroke="#666" stroke-width="0.8"/>
<line x1="581.5" y1="261.6" x2="581.5" y2="268.5" stroke="#555" stroke-width="0.85"/>
<line x1="579.70" y1="261.6" x2="583.30" y2="261.6" stroke="#666" stroke-width="0.8"/>
<line x1="579.70" y1="268.5" x2="583.30" y2="268.5" stroke="#666" stroke-width="0.8"/>
<line x1="571.7" y1="267.1" x2="571.7" y2="272.2" stroke="#555" stroke-width="0.85"/>
<line x1="569.90" y1="267.1" x2="573.50" y2="267.1" stroke="#666" stroke-width="0.8"/>
<line x1="569.90" y1="272.2" x2="573.50" y2="272.2" stroke="#666" stroke-width="0.8"/>
<line x1="527.3" y1="294.2" x2="527.3" y2="296.6" stroke="#555" stroke-width="0.85"/>
<line x1="525.50" y1="294.2" x2="529.10" y2="294.2" stroke="#666" stroke-width="0.8"/>
<line x1="525.50" y1="296.6" x2="529.10" y2="296.6" stroke="#666" stroke-width="0.8"/>
<line x1="555.3" y1="264.2" x2="555.3" y2="266.5" stroke="#555" stroke-width="0.85"/>
<line x1="553.50" y1="264.2" x2="557.10" y2="264.2" stroke="#666" stroke-width="0.8"/>
<line x1="553.50" y1="266.5" x2="557.10" y2="266.5" stroke="#666" stroke-width="0.8"/>
<circle cx="654.4" cy="221.20" r="1.7" fill="#ea1a1a" stroke="#4a0000" stroke-width="0.75"/>
<circle cx="635.4" cy="232.20" r="1.7" fill="#ea1a1a" stroke="#4a0000" stroke-width="0.75"/>
<circle cx="625.6" cy="242.90" r="1.7" fill="#ea1a1a" stroke="#4a0000" stroke-width="0.75"/>
<circle cx="576.9" cy="257.10" r="1.7" fill="#ea1a1a" stroke="#4a0000" stroke-width="0.75"/>
<circle cx="581.5" cy="265.00" r="1.7" fill="#ea1a1a" stroke="#4a0000" stroke-width="0.75"/>
<circle cx="571.7" cy="269.60" r="1.7" fill="#ea1a1a" stroke="#4a0000" stroke-width="0.75"/>
<circle cx="527.3" cy="295.60" r="1.7" fill="#ea1a1a" stroke="#4a0000" stroke-width="0.75"/>
<circle cx="555.3" cy="265.50" r="1.7" fill="#ea1a1a" stroke="#4a0000" stroke-width="0.75"/>
<circle cx="512.7" cy="310.50" r="1.7" fill="#ea1a1a" stroke="#4a0000" stroke-width="0.75"/>
<circle cx="514.4" cy="311.90" r="1.7" fill="#ea1a1a" stroke="#4a0000" stroke-width="0.75"/>
<circle cx="513.1" cy="312.30" r="1.7" fill="#ea1a1a" stroke="#4a0000" stroke-width="0.75"/>
<circle cx="508.6" cy="315.80" r="1.7" fill="#ea1a1a" stroke="#4a0000" stroke-width="0.75"/>
<circle cx="506.9" cy="317.50" r="1.7" fill="#ea1a1a" stroke="#4a0000" stroke-width="0.75"/>
</svg></body></html>
